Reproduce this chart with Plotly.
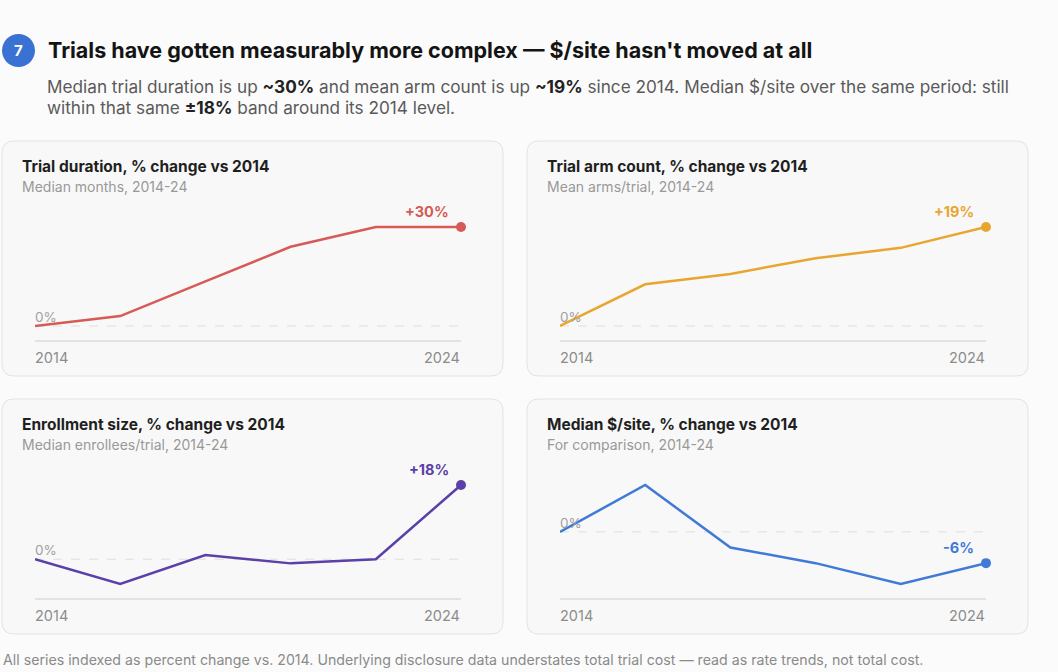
import plotly.graph_objects as go

# chart values
years = [2014, 2016, 2018, 2020, 2022, 2024]
duration_pct = [0, 3, 13.5, 24, 30, 30]
arms_pct = [0, 8, 10, 13, 15, 19]
enroll_pct = [0, -6, 1, -1, 0, 18]
site_cost_pct = [0, 9, -3, -6, -10, -6]

panel_titles = [
    "Trial duration, % change vs 2014",
    "Trial arm count, % change vs 2014",
    "Enrollment size, % change vs 2014",
    "Median $/site, % change vs 2014",
]
panel_subtitles = [
    "Median months, 2014-24",
    "Mean arms/trial, 2014-24",
    "Median enrollees/trial, 2014-24",
    "For comparison, 2014-24",
]
series = [duration_pct, arms_pct, enroll_pct, site_cost_pct]
colors = ["#d65a55", "#e8a630", "#5a40a8", "#3f7ad6"]

W, H = 1058, 672
FONT = "Inter, Noto Sans, sans-serif"


def px(x):
    return x / W


def py(y):
    return 1 - y / H


def rounded_rect(x0, y0, x1, y1, r=12):
    # pixel box -> svg path in paper coords
    rx, ry = r / W, r / H
    a, b, c, d = px(x0), py(y1), px(x1), py(y0)
    return (f"M{a+rx},{b} L{c-rx},{b} Q{c},{b} {c},{b+ry} L{c},{d-ry} Q{c},{d} {c-rx},{d} "
            f"L{a+rx},{d} Q{a},{d} {a},{d-ry} L{a},{b+ry} Q{a},{b} {a+rx},{b} Z")


fig = go.Figure()
shapes = []
annotations = []

card_left = [2, 527, 2, 527]
card_top = [141, 141, 399, 399]
card_w, card_h = 501, 235

for i, vals in enumerate(series):
    n = i + 1
    left, top = card_left[i], card_top[i]
    xa = "x" if n == 1 else f"x{n}"
    ya = "y" if n == 1 else f"y{n}"

    shapes.append(dict(type="path", path=rounded_rect(left, top, left + card_w, top + card_h),
                       xref="paper", yref="paper", fillcolor="#f8f8f8",
                       line=dict(color="#e3e3e3", width=1), layer="below"))

    # y range so that min sits at top+185 and max at top+86, with a little padding
    lo, hi = min(vals), max(vals)
    unit = (hi - lo) / 99
    pad = 8
    fig.add_trace(go.Scatter(x=years, y=vals, mode="lines", line=dict(color=colors[i], width=2.5),
                             xaxis=xa, yaxis=ya, hoverinfo="skip", showlegend=False))
    fig.add_trace(go.Scatter(x=[years[-1]], y=[vals[-1]], mode="markers",
                             marker=dict(color=colors[i], size=10), cliponaxis=False,
                             xaxis=xa, yaxis=ya, hoverinfo="skip", showlegend=False))

    fig.layout[f"xaxis{'' if n == 1 else n}"] = dict(
        domain=[px(left + 33), px(left + 459)], range=[years[0], years[-1]],
        visible=False, fixedrange=True, anchor=ya)
    fig.layout[f"yaxis{'' if n == 1 else n}"] = dict(
        domain=[py(top + 185 + pad), py(top + 86 - pad)],
        range=[lo - pad * unit, hi + pad * unit],
        visible=False, fixedrange=True, anchor=xa)

    # dashed zero line and bottom axis line
    shapes.append(dict(type="line", xref=xa, yref=ya, x0=years[0], x1=years[-1], y0=0, y1=0,
                       line=dict(color="#dedede", width=1, dash="dash"), layer="below"))
    shapes.append(dict(type="line", xref="paper", yref="paper", x0=px(left + 33), x1=px(left + 459),
                       y0=py(top + 200), y1=py(top + 200), line=dict(color="#dcdcdc", width=1.5)))

    annotations += [
        dict(text=f"<b>{panel_titles[i]}</b>", x=px(left + 18), y=py(top + 25), xanchor="left",
             yanchor="middle", font=dict(size=15.5, color="#1f1f1f")),
        dict(text=panel_subtitles[i], x=px(left + 18), y=py(top + 45), xanchor="left",
             yanchor="middle", font=dict(size=14, color="#999999")),
        dict(text=str(years[0]), x=px(left + 31), y=py(top + 216), xanchor="left",
             yanchor="middle", font=dict(size=14.5, color="#8c8c8c")),
        dict(text=str(years[-1]), x=px(left + 460), y=py(top + 216), xanchor="right",
             yanchor="middle", font=dict(size=14.5, color="#8c8c8c")),
        dict(text="0%", x=years[0], y=0, xref=xa, yref=ya, xanchor="left", yanchor="middle",
             xshift=-2, yshift=9, font=dict(size=13.5, color="#a0a0a0")),
        dict(text=f"<b>{vals[-1]:+.0f}%</b>", x=years[-1], y=vals[-1], xref=xa, yref=ya,
             xanchor="right", yanchor="middle", xshift=-10, yshift=16,
             font=dict(size=14.5, color=colors[i])),
    ]

# header
shapes.append(dict(type="circle", xref="paper", yref="paper", x0=px(2), x1=px(35),
                   y0=py(67), y1=py(34), fillcolor="#3a72d4", line=dict(width=0)))
annotations += [
    dict(text="<b>7</b>", x=px(18.5), y=py(50.5), xanchor="center", yanchor="middle",
         font=dict(size=15, color="white")),
    dict(text="<b>Trials have gotten measurably more complex — $/site hasn't moved at all</b>",
         x=px(46), y=py(50), xanchor="left", yanchor="middle", font=dict(size=21.5, color="#141414")),
    dict(text="Median trial duration is up <b><span style='color:#222'>~30%</span></b> and mean arm count "
              "is up <b><span style='color:#222'>~19%</span></b> since 2014. Median $/site over the same "
              "period: still",
         x=px(45), y=py(86), xanchor="left", yanchor="middle", font=dict(size=17.2, color="#5a5a5a")),
    dict(text="within that same <b><span style='color:#222'>±18%</span></b> band around its 2014 level.",
         x=px(45), y=py(107), xanchor="left", yanchor="middle", font=dict(size=17.2, color="#5a5a5a")),
    dict(text="All series indexed as percent change vs. 2014. Underlying disclosure data understates "
              "total trial cost — read as rate trends, not total cost.",
         x=px(1), y=py(660), xanchor="left", yanchor="middle", font=dict(size=14.2, color="#8a8a8a")),
]

for a in annotations:
    a.setdefault("xref", "paper")
    a.setdefault("yref", "paper")
    a["showarrow"] = False

fig.update_layout(
    width=W, height=H,
    margin=dict(l=0, r=0, t=0, b=0),
    paper_bgcolor="#fbfbfb",
    plot_bgcolor="rgba(0,0,0,0)",
    font=dict(family=FONT),
    shapes=shapes,
    annotations=annotations,
)

# drop the browser's default 8px body margin so the figure sits at the window's corner
fig.write_html("out.html", config={"displayModeBar": False},
               post_script="document.body.style.margin='0';")
